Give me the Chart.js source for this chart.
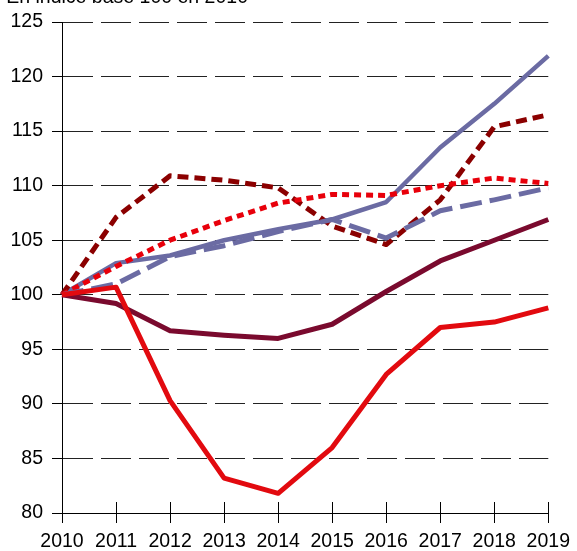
<!DOCTYPE html>
<html lang="fr">
<head>
    <meta charset="UTF-8">
    <title>Indice base 100 en 2010</title>
    <style>
        html, body { margin: 0; padding: 0; background: #fff; }
        #wrap { position: relative; width: 577px; height: 551px; }
    </style>
    <script src="https://cdn.jsdelivr.net/npm/chart.js"></script>
</head>
<body>
    <div id="wrap"><canvas id="myChart" width="577" height="551"></canvas></div>
    <script>
        const years = ['2010', '2011', '2012', '2013', '2014', '2015', '2016', '2017', '2018', '2019'];
        const blueSolid = [100, 102.9, 103.6, 105.0, 106.0, 106.9, 108.5, 113.5, 117.5, 121.9];
        const maroonDashed = [100, 107.1, 110.9, 110.5, 109.8, 106.3, 104.6, 108.7, 115.4, 116.5];
        const redDotted = [100, 102.6, 105.0, 106.8, 108.4, 109.2, 109.1, 110.0, 110.7, 110.2];
        const blueDashed = [100, 101.0, 103.5, 104.5, 105.8, 106.9, 105.2, 107.7, 108.7, 109.8];
        const maroonSolid = [100, 99.2, 96.7, 96.3, 96.0, 97.3, 100.3, 103.1, 105.0, 106.9];
        const redSolid = [100, 100.7, 90.3, 83.2, 81.8, 86.0, 92.7, 97.0, 97.5, 98.8];
        const yTicks = [80, 85, 90, 95, 100, 105, 110, 115, 120, 125];

        const font = { family: 'Liberation Sans, Arial, sans-serif', size: 19.5 };

        // sous-titre coupé en haut + petites graduations au-dessus de l'axe x
        const extras = {
            id: 'extras',
            afterDraw(chart) {
                const ctx = chart.ctx;
                const x = chart.scales.x;
                const bottom = chart.chartArea.bottom;
                ctx.save();
                ctx.strokeStyle = '#000';
                ctx.lineWidth = 1;
                years.forEach((y, i) => {
                    const px = Math.round(x.getPixelForValue(i)) + 0.5;
                    ctx.beginPath();
                    ctx.moveTo(px, bottom - 11);
                    ctx.lineTo(px, bottom);
                    ctx.stroke();
                });
                ctx.fillStyle = '#000';
                ctx.font = '19.5px ' + font.family;
                ctx.textAlign = 'right';
                ctx.textBaseline = 'alphabetic';
                ctx.fillText('En indice base 100 en 2010', 248, 3);
                ctx.restore();
            }
        };

        const mk = (label, data, color, dash, width) => ({
            label, data,
            borderColor: color,
            backgroundColor: color,
            borderWidth: width,
            borderDash: dash,
            borderCapStyle: 'butt',
            borderJoinStyle: 'round',
            pointRadius: 0,
            tension: 0,
            fill: false
        });

        const ctx = document.getElementById('myChart').getContext('2d');
        new Chart(ctx, {
            type: 'line',
            data: {
                labels: years,
                datasets: [
                    mk('redSolid', redSolid, '#E20A0F', [], 5),
                    mk('maroonSolid', maroonSolid, '#7A0A2E', [], 5),
                    mk('blueDashed', blueDashed, '#6B6BA3', [22, 8], 5),
                    mk('redDotted', redDotted, '#E8000B', [7, 5], 5),
                    mk('maroonDashed', maroonDashed, '#8B0000', [11, 6], 5),
                    mk('blueSolid', blueSolid, '#6B6BA3', [], 4.5)
                ]
            },
            options: {
                responsive: false,
                animation: false,
                layout: { padding: { top: 22, right: 26, left: 0, bottom: 0 } },
                plugins: { legend: { display: false }, tooltip: { enabled: false } },
                scales: {
                    x: {
                        offset: false,
                        afterFit(s) { s.height = 38; },
                        grid: { display: true, drawOnChartArea: false, drawTicks: true, tickLength: 10, color: '#000', lineWidth: 1 },
                        border: { display: true, color: '#000', width: 1 },
                        ticks: { color: '#000', font, padding: 7, maxRotation: 0, autoSkip: false }
                    },
                    y: {
                        min: 80,
                        max: 125,
                        afterFit(s) { s.width = 62; },
                        afterBuildTicks(s) { s.ticks = yTicks.map(v => ({ value: v })); },
                        grid: { color: '#222', lineWidth: 1, tickLength: 10, tickBorderDash: [], tickColor: '#000' },
                        border: { display: true, color: '#000', width: 1, dash: [30, 8] },
                        ticks: { color: '#000', font, padding: 9 }
                    }
                }
            },
            plugins: [extras]
        });
    </script>
</body>
</html>
